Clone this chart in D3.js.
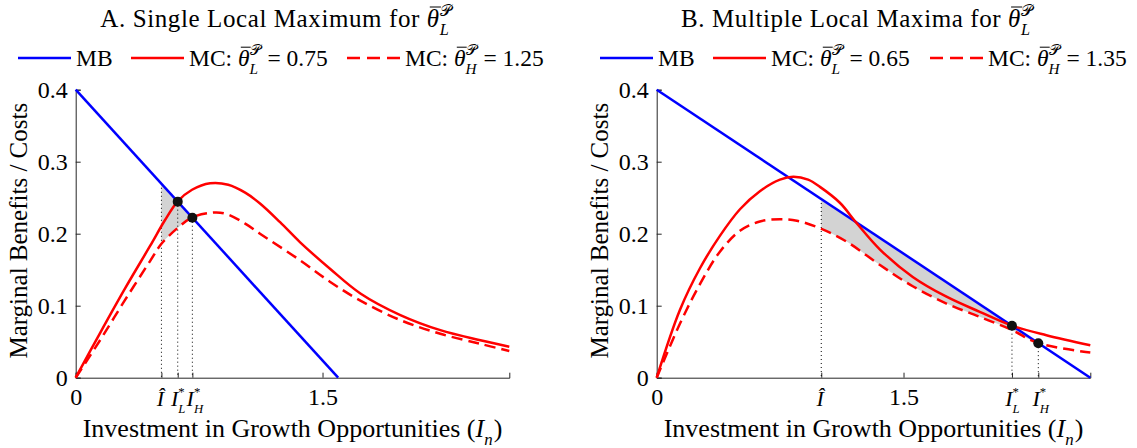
<!DOCTYPE html>
<html>
<head>
<meta charset="utf-8">
<script src="https://cdn.jsdelivr.net/npm/d3@7"></script>
<style>
  body { margin: 0; background: #fff; }
  text { font-family: "Liberation Serif", "DejaVu Serif", serif; fill: #000; white-space: pre; }
</style>
</head>
<body>
<div id="chart"></div>
<script>
const width = 1137;
const height = 448;

// shared axis range
const xMax = 2.635;
const yTicks = [0, 0.1, 0.2, 0.3, 0.4];

// Panel A: single local maximum
const mbA_I = [0, 1.595];
const mbA_V = [0.4, 0];
const mcLowA_I = [0, 0.148, 0.30, 0.452, 0.543, 0.62, 0.707, 0.817, 0.927, 1.03, 1.12, 1.242, 1.364, 1.547, 1.73, 1.973, 2.216, 2.459, 2.635];
const mcLowA_V = [0, 0.062, 0.124, 0.183, 0.219, 0.245, 0.261, 0.27, 0.268, 0.257, 0.242, 0.216, 0.188, 0.151, 0.117, 0.087, 0.066, 0.052, 0.043];
const mcHighA_I = [0, 0.148, 0.30, 0.452, 0.521, 0.62, 0.709, 0.817, 0.908, 1.03, 1.12, 1.364, 1.547, 1.73, 1.973, 2.216, 2.459, 2.635];
const mcHighA_V = [0, 0.052, 0.108, 0.162, 0.186, 0.208, 0.2227, 0.229, 0.228, 0.214, 0.2, 0.163, 0.133, 0.107, 0.080, 0.061, 0.047, 0.037];
const marksA = [0.521, 0.62, 0.709];   // I-hat, I_L*, I_H*
const thetaA = ["0.75", "1.25"];

// Panel B: multiple local maxima
const mbB_I = [0, 2.635];
const mbB_V = [0.4, 0];
const mcLowB_I = [0, 0.141, 0.263, 0.384, 0.506, 0.627, 0.749, 0.83, 0.92, 0.992, 1.113, 1.214, 1.357, 1.556, 1.761, 1.963, 2.159, 2.368, 2.635];
const mcLowB_V = [0, 0.094, 0.152, 0.197, 0.234, 0.259, 0.275, 0.279, 0.275, 0.265, 0.243, 0.215, 0.178, 0.140, 0.1125, 0.0915, 0.0723, 0.059, 0.045];
const mcHighB_I = [0, 0.141, 0.263, 0.384, 0.506, 0.627, 0.749, 0.852, 0.992, 1.154, 1.357, 1.556, 1.761, 1.963, 2.161, 2.319, 2.635];
const mcHighB_V = [0, 0.075, 0.13, 0.175, 0.204, 0.217, 0.22, 0.218, 0.2075, 0.189, 0.1565, 0.127, 0.103, 0.0845, 0.066, 0.048, 0.035];
const marksB = [1.0, 2.159, 2.319];
const thetaB = ["0.65", "1.35"];

const svg = d3.select("#chart").append("svg")
  .attr("width", width)
  .attr("height", height);

const zip = (xs, ys) => xs.map((x, i) => [x, ys[i]]);

// write a small piece of math: pieces run left to right, stacks hold sup/sub
function rich(parent, x, y, parts, size, anchor, opts = {}) {
  const g = parent.append("g");
  const sc = opts.script || 0.65;
  let cx = 0;
  parts.forEach(p => {
    if (p.sup !== undefined || p.sub !== undefined) {
      let w = 0;
      if (p.sup) {
        const t = g.append("text").attr("x", cx).attr("y", -size * 0.45)
          .attr("font-size", size * sc).text(p.sup);
        w = Math.max(w, t.node().getComputedTextLength());
      }
      if (p.sub) {
        const t = g.append("text").attr("x", cx).attr("y", size * 0.32)
          .attr("font-size", size * sc).attr("font-style", "italic").text(p.sub);
        w = Math.max(w, t.node().getComputedTextLength());
      }
      cx += w + 1;
    } else {
      const t = g.append("text").attr("x", cx).attr("y", 0)
        .attr("font-size", size)
        .attr("font-style", p.it ? "italic" : null)
        .attr("letter-spacing", opts.spacing || null)
        .text(p.t);
      const w = t.node().getComputedTextLength();
      if (p.bar) {
        g.append("line")
          .attr("x1", cx + size * 0.12).attr("x2", cx + w + size * 0.05)
          .attr("y1", -size * 0.8).attr("y2", -size * 0.8)
          .attr("stroke", "#000").attr("stroke-width", 1);
      }
      cx += w;
    }
  });
  const shift = anchor === "middle" ? -cx / 2 : anchor === "end" ? -cx : 0;
  g.attr("transform", `translate(${x + shift},${y})`);
  return g;
}

const thetaBar = (sub) => [{ t: "θ", it: true, bar: true }, { sup: "𝒫", sub: sub }];

function panel(opt) {
  const x = d3.scaleLinear().domain([0, xMax]).range([opt.left, opt.left + 433.6]);
  const y = d3.scaleLinear().domain([0, 0.4]).range([377.7, 89.7]);
  const g = svg.append("g");

  const curve = d3.curveCatmullRom.alpha(0.5);
  const line = d3.line().x(d => x(d[0])).y(d => y(d[1])).curve(curve);
  const mb = d3.scaleLinear().domain(opt.mbI).range(opt.mbV);
  const mcHigh = zip(opt.highI, opt.highV);
  const [iHat, iL, iH] = opt.marks;

  // shaded gap between MB and the high-type cost curve
  const clipId = "clip" + opt.key;
  g.append("clipPath").attr("id", clipId)
    .append("rect")
    .attr("x", x(iHat)).attr("y", 0)
    .attr("width", x(iH) - x(iHat)).attr("height", height);
  g.append("path")
    .datum(mcHigh)
    .attr("clip-path", `url(#${clipId})`)
    .attr("fill", "#d3d3d3")
    .attr("d", d3.area()
      .x(d => x(d[0]))
      .y0(d => y(d[1]))
      .y1(d => y(mb(d[0])))
      .curve(curve));

  // axes
  const xAxis = g.append("g")
    .attr("transform", `translate(0,${y(0)})`)
    .call(d3.axisBottom(x)
      .tickValues([0, 1.5, ...opt.marks])
      .tickSize(-5)
      .tickPadding(10)
      .tickFormat(d => (d === 0 ? "0" : d === 1.5 ? "1.5" : "")));
  const yAxis = g.append("g")
    .attr("transform", `translate(${x(0)},0)`)
    .call(d3.axisLeft(y).tickValues(yTicks).tickSize(-5).tickPadding(8)
      .tickFormat(d => (d === 0 ? "0" : d3.format(".1f")(d))));
  [xAxis, yAxis].forEach(a => {
    a.select(".domain").attr("stroke", "#262626").attr("stroke-width", 1);
    a.selectAll(".tick line").attr("stroke", "#262626");
    a.selectAll(".tick text").attr("font-size", 24).attr("fill", "#000");
  });

  // dotted guide lines down to the axis
  const guideTop = [mb(iHat), mb(iL), mb(iH)];
  g.selectAll(".guide").data(opt.marks).join("line")
    .attr("class", "guide")
    .attr("x1", d => x(d)).attr("x2", d => x(d))
    .attr("y1", (d, i) => y(guideTop[i])).attr("y2", y(0))
    .attr("stroke", "#000").attr("stroke-width", 1)
    .attr("stroke-dasharray", "1,3");

  // curves
  g.append("path").datum(zip(opt.mbI, opt.mbV))
    .attr("fill", "none").attr("stroke", "#0000ff").attr("stroke-width", 2.5)
    .attr("d", d3.line().x(d => x(d[0])).y(d => y(d[1])));
  g.append("path").datum(zip(opt.lowI, opt.lowV))
    .attr("fill", "none").attr("stroke", "#ff0000").attr("stroke-width", 2.5)
    .attr("d", line);
  g.append("path").datum(mcHigh)
    .attr("fill", "none").attr("stroke", "#ff0000").attr("stroke-width", 2.5)
    .attr("stroke-dasharray", "11,6")
    .attr("d", line);

  // optimum points
  g.selectAll(".dot").data([iL, iH]).join("circle")
    .attr("class", "dot")
    .attr("cx", d => x(d)).attr("cy", d => y(mb(d)))
    .attr("r", 5).attr("fill", "#111");

  // math tick labels (tight in panel A, as in the original)
  const ly = y(0) + 28;
  const ms = { script: 0.58 };
  rich(g, x(iHat) - 1, ly, [{ t: "Î", it: true }], 22, "middle", ms);
  rich(g, x(iL) + 1, ly, [{ t: "I", it: true }, { sup: "*", sub: "L" }], 22, "middle", ms);
  rich(g, x(iH) + 3, ly, [{ t: "I", it: true }, { sup: "*", sub: "H" }], 22, "middle", ms);

  // labels
  const cxMid = (x(0) + x(xMax)) / 2;
  rich(g, cxMid - 16, 27, [{ t: opt.title + " " }, ...thetaBar("L")], 25, "middle", { spacing: 0.6 });
  rich(g, cxMid, 437, [{ t: "Investment in Growth Opportunities (" }, { t: "I", it: true },
    { sub: "n" }, { t: ")" }], 26, "middle");
  g.append("text")
    .attr("transform", `translate(${opt.left - 49},${(y(0) + y(0.4)) / 2 - 3}) rotate(-90)`)
    .attr("text-anchor", "middle")
    .attr("font-size", 25)
    .text("Marginal Benefits / Costs");

  // legend
  const legY = 58;
  const lx = opt.legend;
  g.append("line").attr("x1", lx[0]).attr("x2", lx[0] + 53).attr("y1", legY).attr("y2", legY)
    .attr("stroke", "#0000ff").attr("stroke-width", 2.5);
  rich(g, lx[0] + 58, legY + 8, [{ t: "MB" }], 23.5, "start");
  g.append("line").attr("x1", lx[1]).attr("x2", lx[1] + 53).attr("y1", legY).attr("y2", legY)
    .attr("stroke", "#ff0000").attr("stroke-width", 2.5);
  rich(g, lx[1] + 58, legY + 8, [{ t: "MC: " }, ...thetaBar("L"), { t: " = " + opt.theta[0] }], 23.5, "start");
  g.append("line").attr("x1", lx[2]).attr("x2", lx[2] + 53).attr("y1", legY).attr("y2", legY)
    .attr("stroke", "#ff0000").attr("stroke-width", 2.5).attr("stroke-dasharray", "13,7");
  rich(g, lx[2] + 58, legY + 8, [{ t: "MC: " }, ...thetaBar("H"), { t: " = " + opt.theta[1] }], 23.5, "start");
}

panel({
  key: "A", left: 75.7, title: "A. Single Local Maximum for",
  mbI: mbA_I, mbV: mbA_V, lowI: mcLowA_I, lowV: mcLowA_V,
  highI: mcHighA_I, highV: mcHighA_V, marks: marksA, theta: thetaA,
  legend: [18, 131, 347]
});
panel({
  key: "B", left: 656.7, title: "B. Multiple Local Maxima for",
  mbI: mbB_I, mbV: mbB_V, lowI: mcLowB_I, lowV: mcLowB_V,
  highI: mcHighB_I, highV: mcHighB_V, marks: marksB, theta: thetaB,
  legend: [600, 713, 930]
});
</script>
</body>
</html>
